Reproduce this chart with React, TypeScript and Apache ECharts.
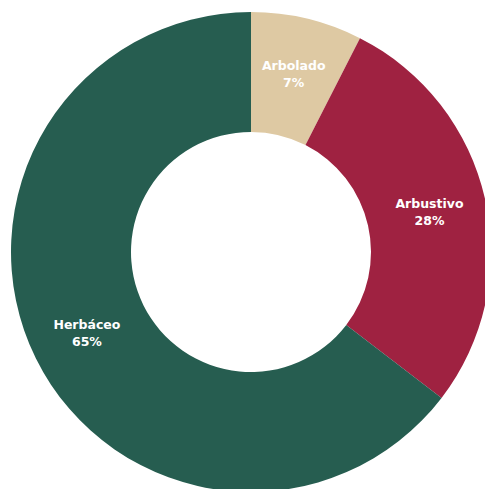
import React, { useEffect, useRef } from "react";
import * as echarts from "echarts";

const categories = ["Arbolado", "Arbustivo", "Herbáceo"];
const values = [7.5, 27.9, 64.6];
const percentLabels = ["7%", "28%", "65%"];
const colors = ["#DEC9A3", "#9F2241", "#265D50"];

export default function App() {
  const ref = useRef<HTMLDivElement>(null);
  useEffect(() => {
    if (!ref.current) return;
    const chart = echarts.init(ref.current, null, { renderer: "svg" });
    chart.setOption({
      animation: false,
      backgroundColor: "#ffffff",
      series: [
        {
          type: "pie",
          center: [251, 252],
          radius: [120, 240],
          startAngle: 90,
          clockwise: true,
          silent: true,
          itemStyle: { borderWidth: 0 },
          label: {
            show: true,
            position: "inside",
            formatter: (p: any) => `${p.name}\n${percentLabels[p.dataIndex]}`,
            color: "#ffffff",
            fontWeight: "bold",
            fontSize: 12.5,
            lineHeight: 17,
            fontFamily: "'DejaVu Sans', sans-serif",
          },
          labelLine: { show: false },
          data: categories.map((c, i) => ({
            name: c,
            value: values[i],
            itemStyle: { color: colors[i] },
          })),
        },
      ],
    });
    return () => chart.dispose();
  }, []);
  return (
    <div
      ref={ref}
      style={{ position: "absolute", left: 0, top: 0, width: 485, height: 489 }}
    />
  );
}
